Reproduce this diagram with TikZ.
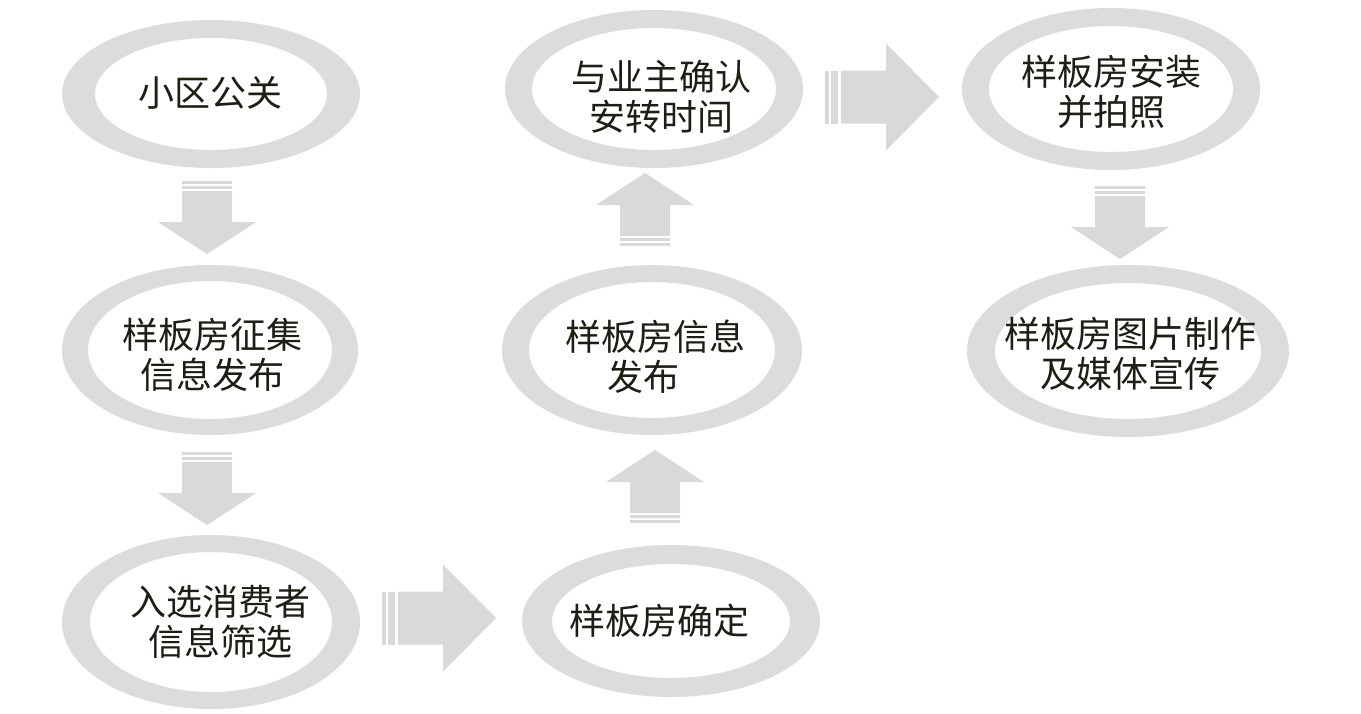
\documentclass[tikz,border=0pt]{standalone}
\usepackage{fontspec}
\newfontfamily\cjk{Noto Sans CJK SC}
\definecolor{ringgray}{HTML}{DCDCDC}
\definecolor{arrgray}{HTML}{D9D9D9}
\definecolor{txt}{HTML}{1E1E14}
\tikzset{
  lbl/.style={font=\cjk\fontsize{36}{40}\selectfont, text=txt, align=center, inner sep=0pt},
  ringfill/.style={fill=ringgray, even odd rule},
  arrfill/.style={fill=arrgray},
  darrow/.pic={
    \fill[arrfill] (-25,0) rectangle (25,3);
    \fill[arrfill] (-25,5) rectangle (25,8);
    \fill[arrfill] (-25,10) -- (25,10) -- (25,41) -- (49,41) -- (0,73) -- (-49,41) -- (-25,41) -- cycle;
  },
  rarrow/.pic={
    \fill[arrfill] (0,-26.5) rectangle (4,26.5);
    \fill[arrfill] (6,-26.5) rectangle (13,26.5);
    \fill[arrfill] (16,-26.5) -- (61,-26.5) -- (61,-53.5) -- (114,0) -- (61,53.5) -- (61,26.5) -- (16,26.5) -- cycle;
  }
}
\begin{document}
\begin{tikzpicture}[x=1pt,y=-1pt]
\useasboundingbox (0,0) rectangle (1361,713);
\fill[white] (0,0) rectangle (1361,713);

% rings
\fill[ringfill] (211,94) ellipse (149 and 74) (211,94) ellipse (116 and 56);
\fill[ringfill] (210,350) ellipse (148 and 85) (210,350) ellipse (122 and 69);
\fill[ringfill] (211,622) ellipse (149 and 87) (211,622) ellipse (121 and 70);
\fill[ringfill] (671,621) ellipse (149 and 76) (671,621) ellipse (119 and 57);
\fill[ringfill] (652,350) ellipse (150 and 85) (652,350) ellipse (123 and 68);
\fill[ringfill] (654,89) ellipse (149 and 79) (654,89) ellipse (122 and 61);
\fill[ringfill] (1111,89) ellipse (149 and 81) (1111,89) ellipse (122 and 63);
\fill[ringfill] (1128,351) ellipse (161 and 86) (1128,351) ellipse (133 and 68);

% labels
\node[lbl] (t1) at (210,93) {小区公关};
\node[lbl] (t2) at (212,355) {样板房征集\\信息发布};
\node[lbl] (t3) at (220,622) {入选消费者\\信息筛选};
\node[lbl] (t4) at (659,621) {样板房确定};
\node[lbl] (t5) at (655,357) {样板房信息\\发布\rule{24pt}{0pt}};
\node[lbl] (t6) at (661,97) {与业主确认\\安转时间};
\node[lbl] (t7) at (1111,92) {样板房安装\\并拍照};
\node[lbl] (t8) at (1130,354) {样板房图片制作\\及媒体宣传};

% block arrows
\pic at (207,181) {darrow};
\pic at (207,452) {darrow};
\pic at (382,618) {rarrow};
\pic[rotate=180] at (655,523) {darrow};
\pic[rotate=180] at (645,246) {darrow};
\pic at (825,97) {rarrow};
\pic at (1120,186) {darrow};
\end{tikzpicture}
\end{document}
